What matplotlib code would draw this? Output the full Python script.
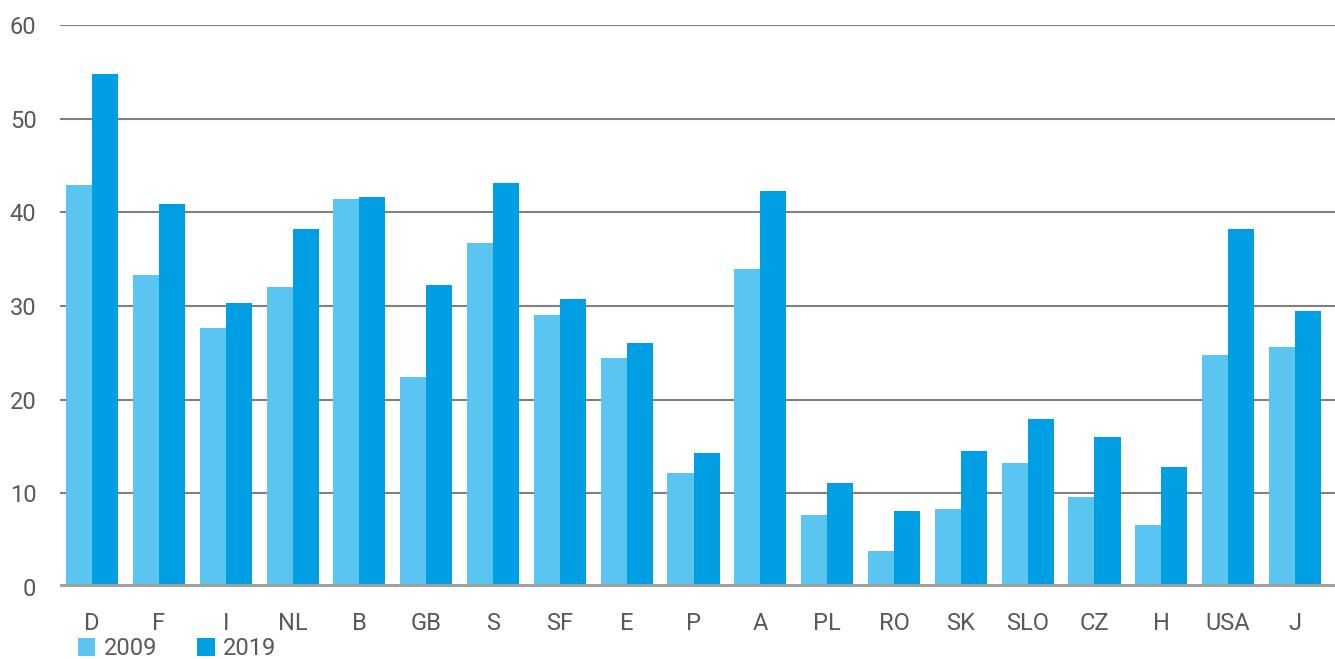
import matplotlib.pyplot as plt
import numpy as np

countries = ["D", "F", "I", "NL", "B", "GB", "S", "SF", "E", "P", "A",
             "PL", "RO", "SK", "SLO", "CZ", "H", "USA", "J"]
vals_2009 = [42.9, 33.3, 27.7, 32.0, 41.4, 22.4, 36.7, 29.0, 24.5, 12.2, 33.9,
             7.7, 3.8, 8.3, 13.2, 9.6, 6.6, 24.8, 25.6]
vals_2019 = [54.8, 40.9, 30.3, 38.2, 41.6, 32.2, 43.1, 30.7, 26.0, 14.3, 42.3,
             11.1, 8.1, 14.5, 17.9, 16.0, 12.8, 38.2, 29.5]

c_light = '#5bc5f2'
c_dark = '#009fe3'
txt = '#595959'

plt.rcParams['font.family'] = ['Roboto', 'DejaVu Sans']

fig = plt.figure(figsize=(13.35, 6.59), dpi=100)
ax = fig.add_axes([0.045, 0.1093, 0.955, 0.8527])

x = np.arange(len(countries))
w = 0.39
ax.bar(x - w / 2, vals_2009, w, color=c_light, label='2009', zorder=3)
ax.bar(x + w / 2, vals_2019, w, color=c_dark, label='2019', zorder=3)

ax.set_ylim(0, 60)
ax.set_xlim(-0.48, len(countries) - 0.4)
ax.set_yticks(range(0, 61, 10))
ax.yaxis.grid(True, color='#808080', linewidth=1.5, zorder=0)
ax.axhline(0, color='#a0a0a0', linewidth=5, zorder=4)

for s in ax.spines.values():
    s.set_visible(False)
ax.tick_params(axis='both', length=0, labelsize=17, labelcolor=txt)
ax.tick_params(axis='y', pad=17)
ax.tick_params(axis='x', pad=18)
ax.set_xticks(x)
ax.set_xticklabels(countries)

# legend hugs the bottom edge
fig.legend(loc='lower left', bbox_to_anchor=(0.051, -0.016), ncol=2, frameon=False,
           fontsize=17, labelcolor=txt, handlelength=0.75, handleheight=0.75,
           handletextpad=0.35, columnspacing=1.7, borderaxespad=0)

fig.savefig('out.png', dpi=100)
